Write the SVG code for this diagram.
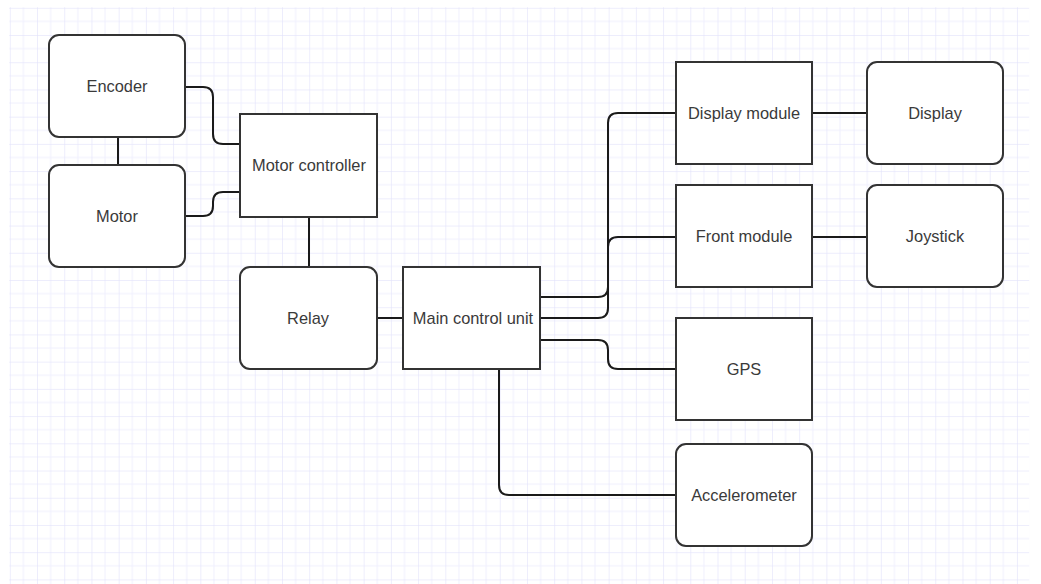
<svg xmlns="http://www.w3.org/2000/svg" width="1041" height="584" viewBox="0 0 1041 584">
  <style>
    .node { fill: #ffffff; stroke: #333333; stroke-width: 2; }
    .label { font-family: "Liberation Sans", Arial, Helvetica, sans-serif; font-size: 16.4px; fill: #3a3a3a; text-anchor: middle; }
    .wire { fill: none; stroke: #1a1a1a; stroke-width: 2; }
  </style>
  <defs>
    <pattern id="grid" patternUnits="userSpaceOnUse" x="9.8" y="7.8" width="27.22" height="27.22">
      <line x1="13.61" y1="0" x2="13.61" y2="27.22" stroke="#efeffe" stroke-width="1"/>
      <line x1="0" y1="13.61" x2="27.22" y2="13.61" stroke="#efeffe" stroke-width="1"/>
      <line x1="0" y1="0" x2="0" y2="27.22" stroke="#e2e2fb" stroke-width="1.2"/>
      <line x1="0" y1="0" x2="27.22" y2="0" stroke="#e2e2fb" stroke-width="1.2"/>
    </pattern>
  </defs>

  <!-- page background and grid -->
  <rect x="0" y="0" width="1041" height="584" fill="#ffffff"/>
  <rect x="9.2" y="7.2" width="1020" height="577" fill="url(#grid)"/>

  <!-- connectors -->
  <g id="connectors">
    <path class="wire" d="M118,137 V165"/>
    <path class="wire" d="M186,87 H203 Q213,87 213,97 V134 Q213,144 223,144 H240"/>
    <path class="wire" d="M186,216 H203 Q213,216 213,206 V202 Q213,192 223,192 H240"/>
    <path class="wire" d="M309,217 V267"/>
    <path class="wire" d="M377,318 H403"/>
    <path class="wire" d="M540,297 H598 Q608,297 608,287 V123 Q608,113 618,113 H676"/>
    <path class="wire" d="M540,318 H598 Q608,318 608,308 V247 Q608,237 618,237 H676"/>
    <path class="wire" d="M540,340 H598 Q608,340 608,350 V359 Q608,369 618,369 H676"/>
    <path class="wire" d="M499,369 V485 Q499,495 509,495 H676"/>
    <path class="wire" d="M812,113 H867"/>
    <path class="wire" d="M812,237 H867"/>
  </g>

  <!-- nodes -->
  <g id="encoder">
    <rect class="node" x="49" y="35" width="136" height="102" rx="10" ry="10"/>
    <text class="label" x="117" y="92">Encoder</text>
  </g>
  <g id="motor">
    <rect class="node" x="49" y="165" width="136" height="102" rx="10" ry="10"/>
    <text class="label" x="117" y="222">Motor</text>
  </g>
  <g id="motor-controller">
    <rect class="node" x="240" y="114" width="137" height="103"/>
    <text class="label" x="309" y="171">Motor controller</text>
  </g>
  <g id="relay">
    <rect class="node" x="240" y="267" width="137" height="102" rx="10" ry="10"/>
    <text class="label" x="308" y="324">Relay</text>
  </g>
  <g id="main-control-unit">
    <rect class="node" x="403" y="267" width="137" height="102"/>
    <text class="label" x="473" y="324">Main control unit</text>
  </g>
  <g id="display-module">
    <rect class="node" x="676" y="62" width="136" height="102"/>
    <text class="label" x="744" y="119">Display module</text>
  </g>
  <g id="display">
    <rect class="node" x="867" y="62" width="136" height="102" rx="10" ry="10"/>
    <text class="label" x="935" y="119">Display</text>
  </g>
  <g id="front-module">
    <rect class="node" x="676" y="185" width="136" height="102"/>
    <text class="label" x="744" y="242">Front module</text>
  </g>
  <g id="joystick">
    <rect class="node" x="867" y="185" width="136" height="102" rx="10" ry="10"/>
    <text class="label" x="935" y="242">Joystick</text>
  </g>
  <g id="gps">
    <rect class="node" x="676" y="318" width="136" height="102"/>
    <text class="label" x="744" y="375">GPS</text>
  </g>
  <g id="accelerometer">
    <rect class="node" x="676" y="444" width="136" height="102" rx="10" ry="10"/>
    <text class="label" x="744" y="501">Accelerometer</text>
  </g>
</svg>
